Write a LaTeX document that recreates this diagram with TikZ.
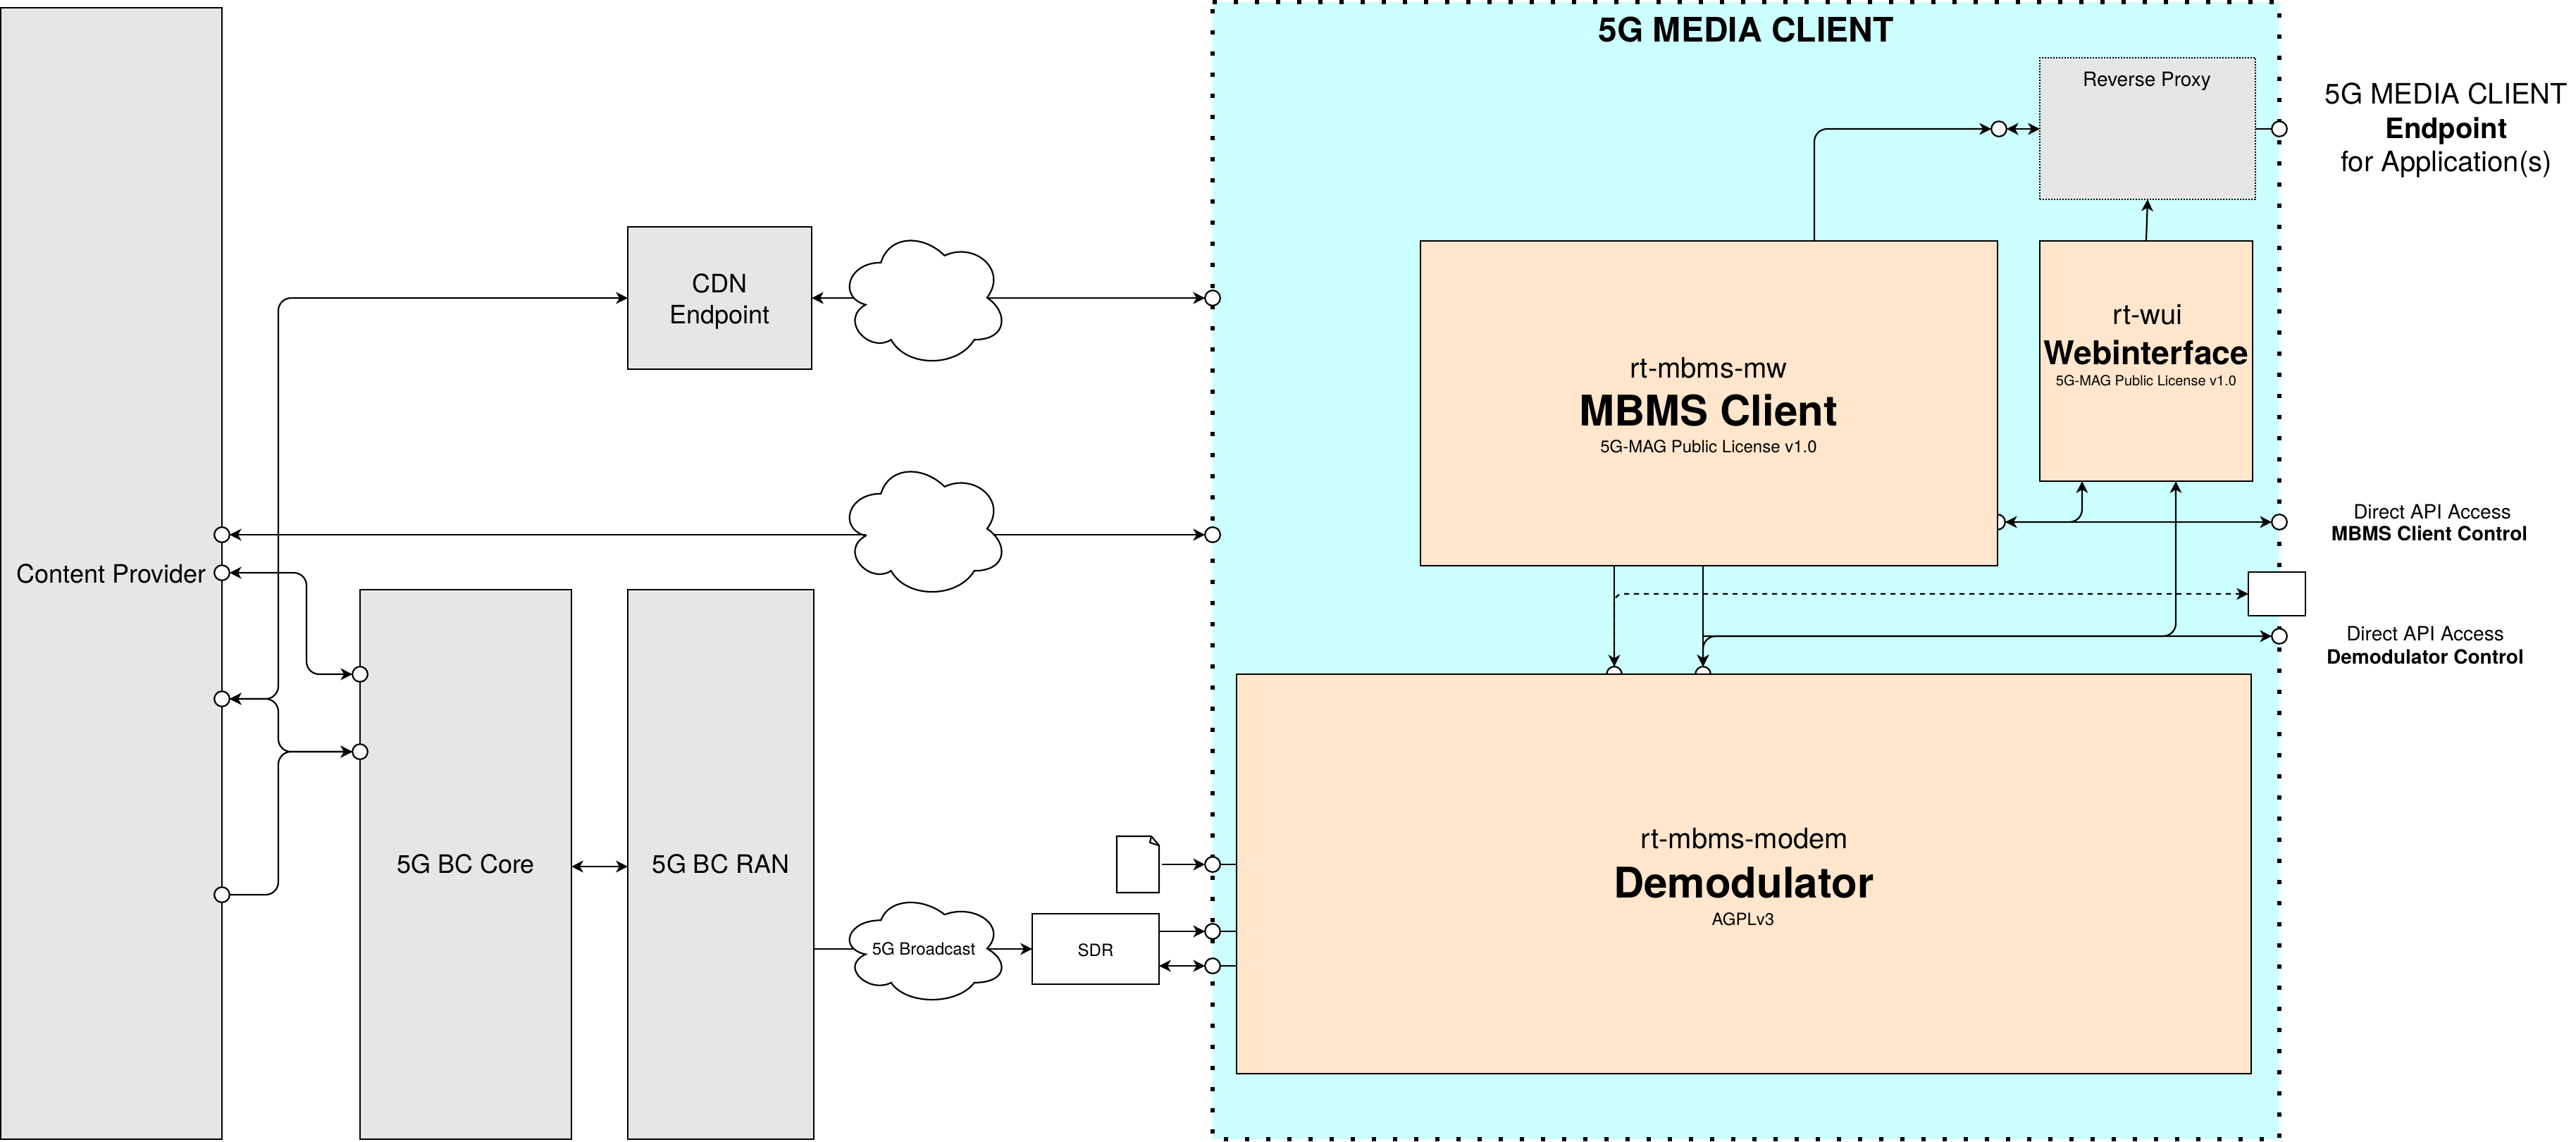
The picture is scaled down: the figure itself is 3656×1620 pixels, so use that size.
\documentclass[tikz,border=0pt]{standalone}
\usepackage{fontspec}
\setmainfont{TeX Gyre Heros}
\usetikzlibrary{arrows.meta}
\definecolor{cyanbg}{HTML}{CCFFFF}
\definecolor{peach}{HTML}{FFE6CC}
\definecolor{greybox}{HTML}{E6E6E6}
% size in reference pixels -> pt
\newcommand{\pxfont}[2]{\fontsize{#1}{#2}\selectfont}
% \bx[style]{name}{x0}{y0}{x1}{y1}{text}
\newcommand{\bx}[7][]{\node[boxbase,#1,minimum width={(#5-#3)*0.25pt},minimum height={(#6-#4)*0.25pt}] (#2) at ({(#3+#5)/2},{(#4+#6)/2}) {#7};}
% \cloudat{x0}{y0}{w}{h}
\newcommand{\cloudat}[4]{\draw[wire,fill=white]
  ({#1+0.25*#3},{#2+0.25*#4})
  .. controls ({#1+0.05*#3},{#2+0.25*#4}) and ({#1},{#2+0.5*#4}) .. ({#1+0.16*#3},{#2+0.55*#4})
  .. controls ({#1},{#2+0.66*#4}) and ({#1+0.18*#3},{#2+0.9*#4}) .. ({#1+0.31*#3},{#2+0.8*#4})
  .. controls ({#1+0.4*#3},{#2+#4}) and ({#1+0.7*#3},{#2+#4}) .. ({#1+0.8*#3},{#2+0.8*#4})
  .. controls ({#1+#3},{#2+0.8*#4}) and ({#1+#3},{#2+0.6*#4}) .. ({#1+0.875*#3},{#2+0.5*#4})
  .. controls ({#1+#3},{#2+0.3*#4}) and ({#1+0.8*#3},{#2+0.1*#4}) .. ({#1+0.625*#3},{#2+0.2*#4})
  .. controls ({#1+0.5*#3},{#2+0.05*#4}) and ({#1+0.3*#3},{#2+0.05*#4}) .. cycle;}
\begin{document}
\begin{tikzpicture}[x=0.25pt,y=-0.25pt,
  >={Stealth[length=4.2pt,width=4.2pt,inset=1.2pt]},
  wire/.style={line width=0.55pt,draw=black},
  rc/.style={rounded corners=4.5pt},
  boxbase/.style={wire,rectangle,inner sep=0pt,outer sep=0pt,align=center},
  greyb/.style={fill=greybox,font=\pxfont{9}{11}},
  peachb/.style={fill=peach},
  whiteb/.style={fill=white,font=\pxfont{6}{7}},
  port/.style={wire,circle,fill=white,minimum size=5.4pt,inner sep=0pt,outer sep=0pt},
  txt/.style={anchor=base,inner sep=0pt,outer sep=0pt,align=center},
]
\useasboundingbox (0,0) rectangle (3656,1620);
% client area
\fill[cyanbg] (1721,3) rectangle (3235,1617);
\draw[line width=1.5pt,dash pattern=on 1.5pt off 6pt] (1721,3) -- (3235,3) -- (3235,1617) -- (1721,1617) -- cycle;
% ports hidden behind the client boxes
\node[port] (mbL) at (2835,741) {};
\node[port] (dm1) at (2291,957) {};
\node[port] (dm2) at (2417,957) {};
% boxes
\bx[greyb]{cp}{1}{11}{315}{1617}{Content Provider}
\bx[greyb]{core}{511}{837}{811}{1617}{\raisebox{0.7pt}{5G BC Core}}
\bx[greyb]{ran}{891}{837}{1155}{1617}{\raisebox{0.7pt}{5G BC RAN}}
\bx[greyb]{cdn}{891}{322}{1152}{524}{\rule{0pt}{9pt}CDN\\Endpoint}
\bx[peachb]{mbms}{2016}{342}{2835}{803}{}
\bx[peachb]{web}{2895}{342}{3197}{683}{}
\bx[peachb]{demod}{1755}{957}{3195}{1524}{}
\bx[whiteb]{sdr}{1465}{1297}{1645}{1397}{\rule{0pt}{5.3pt}SDR}
\bx[fill=white]{aux}{3191}{812}{3272}{874}{}
\node[rectangle,fill=greybox,draw=black,line width=0.4pt,dash pattern=on 0.5pt off 0.5pt,inner sep=0pt,outer sep=0pt,minimum width=76.5pt,minimum height=50.25pt] (proxy) at (3048,182.5) {};
% clouds
\cloudat{1190}{323}{241}{199}
\cloudat{1190}{651}{241}{199}
\cloudat{1190}{1266}{241}{161}
\coordinate (cl1L) at (1212,423);
\coordinate (cl1R) at (1401,423);
\coordinate (cl2L) at (1229,759);
\coordinate (cl2R) at (1409,759);
\coordinate (cl3L) at (1212,1347);
\coordinate (cl3R) at (1401,1347);
% document icon
\draw[wire,fill=white] (1585,1187) -- (1634,1187) -- (1645,1200) -- (1645,1267) -- (1585,1267) -- cycle;
\draw[wire] (1634,1187) -- (1632,1196) -- (1645,1200);
\coordinate (docR) at (1649,1227);
% ports
\node[port] (cp1) at (315,759) {};
\node[port] (cp2) at (315,813) {};
\node[port] (cp3) at (315,992) {};
\node[port] (cp4) at (315,1270) {};
\node[port] (co1) at (511,957) {};
\node[port] (co2) at (511,1067) {};
\node[port] (cl1) at (1721,423) {};
\node[port] (cl2) at (1721,759) {};
\node[port] (d1) at (1721,1227) {};
\node[port] (d2) at (1721,1322) {};
\node[port] (d3) at (1721,1371) {};
\node[port] (rpL) at (2837,183) {};
\node[port] (ep) at (3235,183) {};
\node[port] (api1) at (3235,741) {};
\node[port] (api2) at (3235,903) {};
% connectors, left side
\draw[wire,<->,rc] (cp3) -- (395,992) -- (395,423) -- (cdn.west);
\draw[wire,<->,rc] (cp2) -- (435,813) -- (435,957) -- (co1);
\draw[wire,<->,rc] (cp3) -- (395,992) -- (395,1067) -- (co2);
\draw[wire,->,rc] (cp4) -- (395,1270) -- (395,1067) -- (co2);
\draw[wire,<->] (core.east |- 0,1230) -- (ran.west |- 0,1230);
\draw[wire,->] (cl1L) -- (cdn.east |- cl1L);
\draw[wire,->] (cl1R) -- (cl1);
\draw[wire,->] (cl2L) -- (cp1);
\draw[wire,->] (cl2R) -- (cl2);
\draw[wire] (ran.east |- cl3L) -- (cl3L);
\draw[wire,->] (cl3R) -- (sdr.west);
\draw[wire,->] (docR) -- (d1);
\draw[wire,->] (sdr.east |- d2) -- (d2);
\draw[wire,<->] (sdr.east |- d3) -- (d3);
\draw[wire] (d1) -- (demod.west |- d1);
\draw[wire] (d2) -- (demod.west |- d2);
\draw[wire] (d3) -- (demod.west |- d3);
% connectors, client
\draw[wire,->,rc] (2575,0 |- mbms.north) -- (2575,183) -- (rpL);
\draw[wire,<->] (rpL) -- (proxy.west |- rpL);
\draw[wire] (proxy.east |- ep) -- (ep);
\draw[wire,->] (web.north) -- (proxy.south);
\draw[wire,<->] (mbL) -- (api1);
\draw[wire,->,rc] (mbL) -- (2955,741) -- (2955,0 |- web.south);
\draw[wire,->] (2291,0 |- mbms.south) -- (dm1);
\draw[wire,->] (2417,0 |- mbms.south) -- (dm2);
\draw[wire,<->,rc] (dm2) -- (2417,903) -- (api2);
\draw[wire,->,rc] (2417,903) -- (3088,903) -- (3088,0 |- web.south);
\draw[wire,->,rounded corners=3pt,dash pattern=on 1.75pt off 1.75pt] (dm1) -- (2291,843) -- (aux.west);
% texts
\node[txt,font=\pxfont{12}{14}\bfseries] (title) at (2478,59) {5G MEDIA CLIENT};
\node[txt,font=\pxfont{7}{8}] (rptxt) at (3047,122) {Reverse Proxy};
\node[txt,font=\pxfont{10}{12}] (ep1) at (3472,147) {5G MEDIA CLIENT};
\node[txt,font=\pxfont{10}{12}\bfseries] (ep2) at (3472,196) {Endpoint};
\node[txt,font=\pxfont{10}{12}] (ep3) at (3472,243) {for Application(s)};
\node[txt,font=\pxfont{10}{12}] (m1) at (2425,536) {rt-mbms-mw};
\node[txt,font=\pxfont{15}{18}\bfseries] (m2) at (2425,604) {MBMS Client};
\node[txt,font=\pxfont{6}{7}] (m3) at (2425,642) {5G-MAG Public License v1.0};
\node[txt,font=\pxfont{10}{12}] (w1) at (3048,460) {rt-wui};
\node[txt,font=\pxfont{11.6}{14}\bfseries] (w2) at (3046,517) {Webinterface};
\node[txt,font=\pxfont{5}{6}] (w3) at (3046,547) {5G-MAG Public License v1.0};
\node[txt,font=\pxfont{10}{12}] (d1t) at (2476,1204) {rt-mbms-modem};
\node[txt,font=\pxfont{15}{18}\bfseries] (d2t) at (2475,1274) {Demodulator};
\node[txt,font=\pxfont{6}{7}] (d3t) at (2474,1313) {AGPLv3};
\node[txt,font=\pxfont{7}{8}] (a1) at (3452,736) {Direct API Access};
\node[txt,font=\pxfont{7}{8}\bfseries] (a2) at (3448,767) {MBMS Client Control};
\node[txt,font=\pxfont{7}{8}] (a3) at (3442,909) {Direct API Access};
\node[txt,font=\pxfont{7}{8}\bfseries] (a4) at (3442,942) {Demodulator Control};
\node[inner sep=0pt,font=\pxfont{6}{7}] (cl3t) at (1311,1347) {5G Broadcast};
\end{tikzpicture}
\end{document}
